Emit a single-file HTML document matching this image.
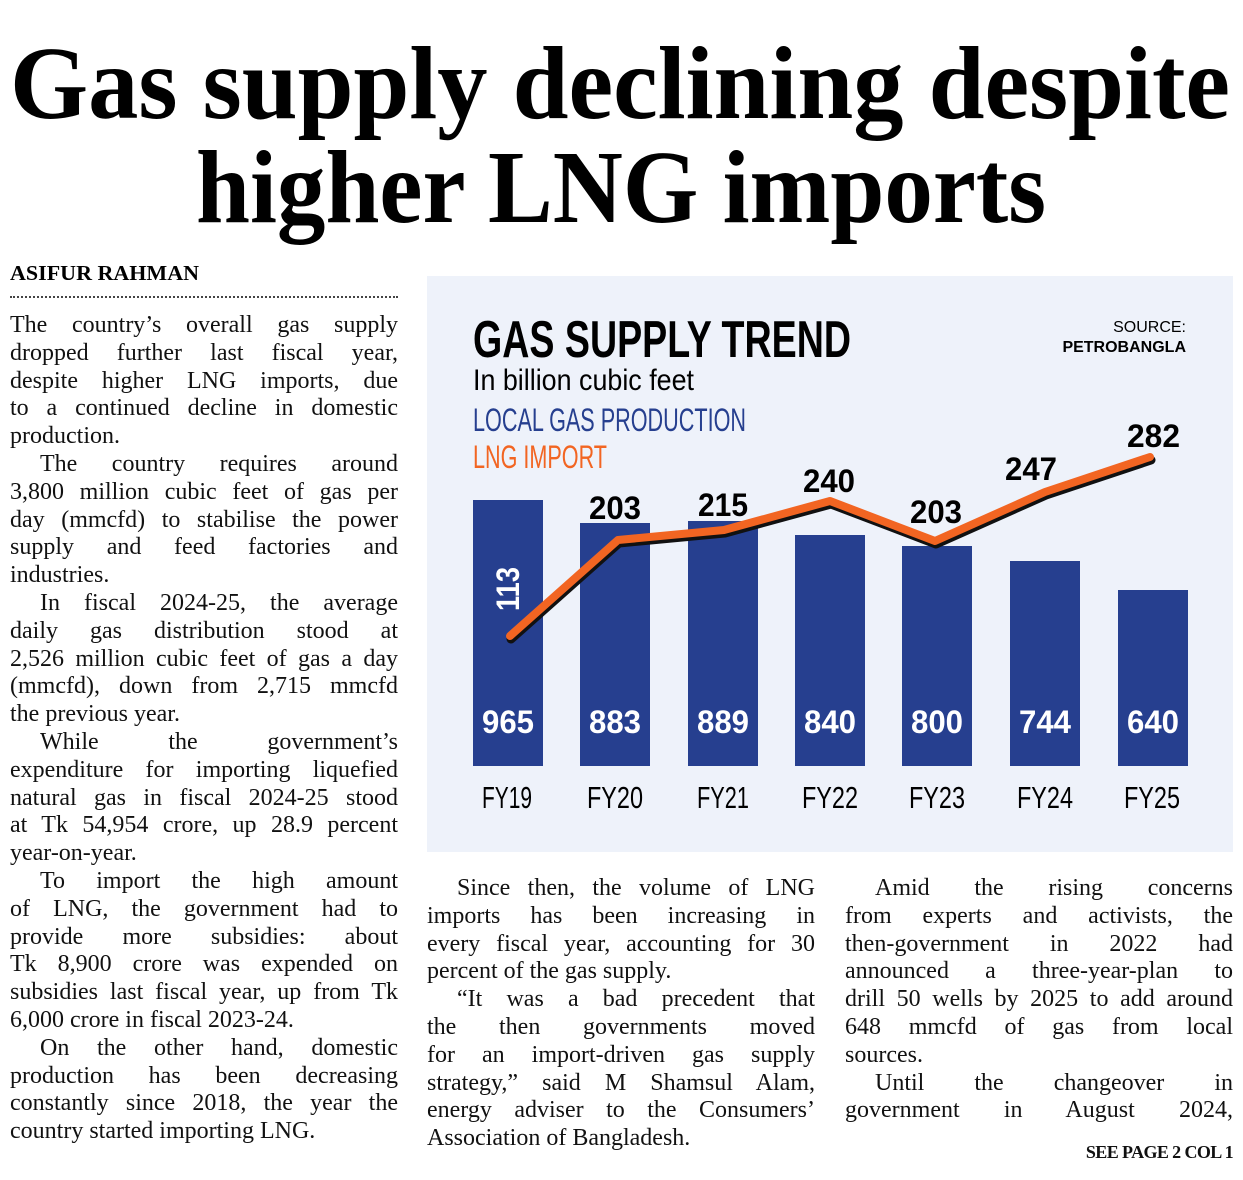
<!DOCTYPE html>
<html><head><meta charset="utf-8">
<style>
html,body{margin:0;padding:0;background:#fff;}
body{width:1243px;height:1180px;position:relative;overflow:hidden;font-family:"Liberation Serif",serif;color:#111;}
.col{position:absolute;width:388px;font-size:24px;line-height:27.8px;}
.col div{height:27.8px;white-space:nowrap;overflow:visible;text-align:justify;text-align-last:justify;}
.col div.l{text-align-last:left;}
.col div.i{padding-left:30px;}
</style></head><body>
<svg width="1243" height="250" style="position:absolute;left:0;top:0">
<text x="10" y="118" font-family="Liberation Serif" font-weight="bold" font-size="104" textLength="1220" lengthAdjust="spacingAndGlyphs" fill="#000">Gas supply declining despite</text>
<text x="196" y="222" font-family="Liberation Serif" font-weight="bold" font-size="104" textLength="850" lengthAdjust="spacingAndGlyphs" fill="#000">higher LNG imports</text>
</svg>
<svg width="400" height="30" style="position:absolute;left:0;top:258px"><text x="10" y="22" font-family="Liberation Serif" font-weight="bold" font-size="21" textLength="189" lengthAdjust="spacingAndGlyphs">ASIFUR RAHMAN</text></svg>
<div style="position:absolute;left:10px;top:296px;width:388px;border-top:2px dotted #444"></div>

<div class="col" style="left:10px;top:312px">
<div>The country’s overall gas supply</div>
<div>dropped further last fiscal year,</div>
<div>despite higher LNG imports, due</div>
<div>to a continued decline in domestic</div>
<div class="l">production.</div>
<div class="i">The country requires around</div>
<div>3,800 million cubic feet of gas per</div>
<div>day (mmcfd) to stabilise the power</div>
<div>supply and feed factories and</div>
<div class="l">industries.</div>
<div class="i">In fiscal 2024-25, the average</div>
<div>daily gas distribution stood at</div>
<div>2,526 million cubic feet of gas a day</div>
<div>(mmcfd), down from 2,715 mmcfd</div>
<div class="l">the previous year.</div>
<div class="i">While the government’s</div>
<div>expenditure for importing liquefied</div>
<div>natural gas in fiscal 2024-25 stood</div>
<div>at Tk 54,954 crore, up 28.9 percent</div>
<div class="l">year-on-year.</div>
<div class="i">To import the high amount</div>
<div>of LNG, the government had to</div>
<div>provide more subsidies: about</div>
<div>Tk 8,900 crore was expended on</div>
<div>subsidies last fiscal year, up from Tk</div>
<div class="l">6,000 crore in fiscal 2023-24.</div>
<div class="i">On the other hand, domestic</div>
<div>production has been decreasing</div>
<div>constantly since 2018, the year the</div>
<div class="l">country started importing LNG.</div>
</div>

<div class="col" style="left:427px;top:875px">
<div class="i">Since then, the volume of LNG</div>
<div>imports has been increasing in</div>
<div>every fiscal year, accounting for 30</div>
<div class="l">percent of the gas supply.</div>
<div class="i">“It was a bad precedent that</div>
<div>the then governments moved</div>
<div>for an import-driven gas supply</div>
<div>strategy,” said M Shamsul Alam,</div>
<div>energy adviser to the Consumers’</div>
<div class="l">Association of Bangladesh.</div>
</div>

<div class="col" style="left:845px;top:875px">
<div class="i">Amid the rising concerns</div>
<div>from experts and activists, the</div>
<div>then-government in 2022 had</div>
<div>announced a three-year-plan to</div>
<div>drill 50 wells by 2025 to add around</div>
<div>648 mmcfd of gas from local</div>
<div class="l">sources.</div>
<div class="i">Until the changeover in</div>
<div>government in August 2024,</div>
</div>
<div style="position:absolute;right:10px;top:1142px;font-weight:bold;font-size:18px;letter-spacing:-0.6px">SEE PAGE 2 COL 1</div>

<svg width="806" height="576" viewBox="427 276 806 576" style="position:absolute;left:427px;top:276px">
<rect x="427" y="276" width="806" height="576" fill="#eef2fa"/>
<g font-family="Liberation Sans Narrow, Liberation Sans, sans-serif" font-weight="bold">
<text x="473" y="357" font-size="52" textLength="378" lengthAdjust="spacingAndGlyphs" fill="#000">GAS SUPPLY TREND</text>
<text x="473" y="390" font-size="30" font-weight="normal" textLength="221" lengthAdjust="spacingAndGlyphs" fill="#000">In billion cubic feet</text>
<text x="473" y="431" font-size="32" font-weight="normal" textLength="273" lengthAdjust="spacingAndGlyphs" fill="#263f8f">LOCAL GAS PRODUCTION</text>
<text x="473" y="468" font-size="32" font-weight="normal" textLength="134" lengthAdjust="spacingAndGlyphs" fill="#f26522">LNG IMPORT</text>
</g>
<text x="1186" y="332" font-family="Liberation Sans" font-size="16" text-anchor="end" fill="#000">SOURCE:</text>
<text x="1186" y="352" font-family="Liberation Sans" font-weight="bold" font-size="16" text-anchor="end" fill="#000">PETROBANGLA</text>
<g fill="#263f8f">
<rect x="473" y="500" width="70" height="266"/>
<rect x="580" y="523" width="70" height="243"/>
<rect x="688" y="521" width="70" height="245"/>
<rect x="795" y="535" width="70" height="231"/>
<rect x="902" y="546" width="70" height="220"/>
<rect x="1010" y="561" width="70" height="205"/>
<rect x="1118" y="590" width="70" height="176"/>
</g>
<polyline points="510,636 618,540 724,530 830,501 935,541 1045,492 1150,457" fill="none" stroke="#111" stroke-width="9" stroke-linejoin="round" stroke-linecap="round" transform="translate(1,3)"/>
<polyline points="510,636 618,540 724,530 830,501 935,541 1045,492 1150,457" fill="none" stroke="#f26522" stroke-width="8" stroke-linejoin="round" stroke-linecap="round"/>
<g font-family="Liberation Sans Narrow, Liberation Sans, sans-serif" font-weight="bold" font-size="32" lengthAdjust="spacingAndGlyphs">
<g fill="#fff">
<text x="482" y="733" textLength="52" lengthAdjust="spacingAndGlyphs">965</text><text x="589" y="733" textLength="52" lengthAdjust="spacingAndGlyphs">883</text><text x="697" y="733" textLength="52" lengthAdjust="spacingAndGlyphs">889</text><text x="804" y="733" textLength="52" lengthAdjust="spacingAndGlyphs">840</text><text x="911" y="733" textLength="52" lengthAdjust="spacingAndGlyphs">800</text><text x="1019" y="733" textLength="52" lengthAdjust="spacingAndGlyphs">744</text><text x="1127" y="733" textLength="52" lengthAdjust="spacingAndGlyphs">640</text>
<text transform="translate(519,611) rotate(-90)" textLength="44" lengthAdjust="spacingAndGlyphs">113</text>
</g>
<g fill="#000">
<text x="589" y="519" textLength="52" lengthAdjust="spacingAndGlyphs">203</text><text x="698" y="516" textLength="50" lengthAdjust="spacingAndGlyphs">215</text><text x="803" y="492" textLength="52" lengthAdjust="spacingAndGlyphs">240</text><text x="910" y="523" textLength="52" lengthAdjust="spacingAndGlyphs">203</text><text x="1005" y="480" textLength="52" lengthAdjust="spacingAndGlyphs">247</text><text x="1127" y="447" textLength="53" lengthAdjust="spacingAndGlyphs">282</text>
</g>
<g font-weight="normal" font-size="31" fill="#000">
<text x="482" y="808" textLength="50" lengthAdjust="spacingAndGlyphs">FY19</text><text x="587" y="808" textLength="56" lengthAdjust="spacingAndGlyphs">FY20</text><text x="697" y="808" textLength="52" lengthAdjust="spacingAndGlyphs">FY21</text><text x="802" y="808" textLength="56" lengthAdjust="spacingAndGlyphs">FY22</text><text x="909" y="808" textLength="56" lengthAdjust="spacingAndGlyphs">FY23</text><text x="1017" y="808" textLength="56" lengthAdjust="spacingAndGlyphs">FY24</text><text x="1124" y="808" textLength="56" lengthAdjust="spacingAndGlyphs">FY25</text>
</g>
</g>
</svg>
</body></html>
